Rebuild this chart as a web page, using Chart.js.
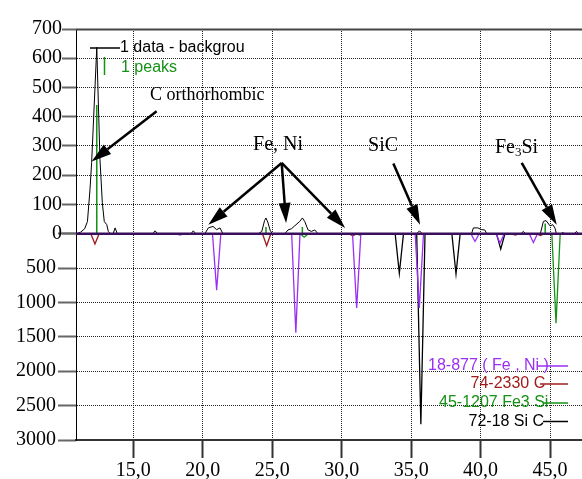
<!DOCTYPE html>
<html>
<head>
<meta charset="utf-8">
<script src="https://cdn.jsdelivr.net/npm/chart.js@4.4.1/dist/chart.umd.min.js"></script>
<style>
  html, body { margin: 0; padding: 0; background: #fff; }
  #wrap { width: 582px; height: 479px; position: relative; }
</style>
</head>
<body>
<div id="wrap"><canvas id="chart"></canvas></div>
<script>
// 2-theta range shown
const xMin = 10.875;
const xMax = 47.3;

// measured pattern "1 data - background" (upper scale, counts)
const dataX = [10.9, 11.2, 11.5, 11.7, 11.88, 12.0, 12.37, 12.6, 12.77, 12.91, 13.09, 13.2, 13.35,
  13.55, 13.69, 13.85, 16.4, 16.57, 16.75, 19.15, 19.32, 19.5,
  20.15, 20.4, 20.74, 21.0, 21.24, 21.45, 24.0, 24.25, 24.45, 24.55, 24.68, 24.85, 25.0,
  25.9, 26.14, 26.38, 26.62, 26.98, 27.17, 27.34, 27.58, 27.82, 28.06, 28.3,
  35.4, 35.6, 35.8, 39.35, 39.48, 39.8, 40.08, 40.3, 40.45, 42.9, 43.08, 43.25,
  44.3, 44.52, 44.71, 45.0, 45.2, 45.36, 45.53, 45.72, 45.9, 46.1, 46.75, 46.9, 47.05, 47.3];
const dataY = [0, 5, 17, 42, 150, 243, 637, 255, 106, 42, 31, 8, 0,
  0, 20, 0, 0, 10, 0, 0, 10, 0,
  0, 20, 25, 14, 20, 0, 0, 8, 45, 54, 40, 12, 0,
  0, 13, 17, 27, 42, 54, 42, 13, 8, 13, 0,
  0, 10, 0, 0, 20, 20, 14, 13, 0, 0, 8, 0,
  0, 42, 45, 27, 31, 19, -14, -3, 4, 0, 0, 8, 0, 0];

// "1 peaks" sticks
const peakX = [12.37, 24.55, 27.17, 44.65];
const peakY = [440, 23, 23, 35];

// reference patterns (lower scale, plotted downward)
const feNiPos = [18.36, 21.0, 26.7, 31.08, 35.59, 39.6, 41.4, 43.8];
const feNiInt = [20, 820, 1440, 1080, 1080, 112, 136, 126];
const carbonPos = [12.24, 24.6, 30.8, 42.5, 44.3];
const carbonInt = [150, 175, 30, 20, 25];
const fe3SiPos = [27.3, 31.3, 45.43];
const fe3SiInt = [50, 20, 1300];
const sicPos = [34.15, 35.7, 38.23, 41.45];
const sicInt = [575, 2770, 585, 223];

const refNames = ['18-877 ( Fe , Ni )', '74-2330 C', '45-1207 Fe3 Si', '72-18 Si C'];
const refColors = ['#9a2ff5', '#a01c1c', '#159115', '#000000'];

// annotation arrows, in data units of the upper scale
const arrowFrom = [[16.68, 419], [25.68, 242], [25.68, 242], [25.68, 242], [33.72, 240], [42.96, 242]];
const arrowTo = [[12.0, 247], [20.4, 31], [26.0, 37], [30.25, 20], [35.64, 31], [45.48, 31]];
const noteText = ['C orthorhombic', 'Fe, Ni', 'SiC', 'Fe3Si'];
const noteAt = [[16.2, 472], [23.62, 303], [31.9, 301], [41.03, 294]];

const PEAK_HALF = 0.3;
const serif = 'Liberation Serif';
const sans = 'Liberation Sans';

Chart.defaults.font.family = serif;

function sticks(pos, val) {
    const out = [];
    pos.forEach((p, i) => {
        out.push({x: p, y: 0}, {x: p, y: val[i]}, {x: p, y: null});
    });
    return out;
}

function pattern(pos, val) {
    const out = [{x: xMin, y: 0}];
    pos.forEach((p, i) => {
        out.push({x: p - PEAK_HALF, y: 0}, {x: p, y: val[i]}, {x: p + PEAK_HALF, y: 0});
    });
    out.push({x: xMax, y: 0});
    return out;
}

function drawArrow(ctx, x1, y1, x2, y2) {
    const a = Math.atan2(y2 - y1, x2 - x1);
    const head = 20, half = 6;
    const bx = x2 - head * Math.cos(a), by = y2 - head * Math.sin(a);
    ctx.beginPath();
    ctx.moveTo(x1, y1);
    ctx.lineTo(bx, by);
    ctx.stroke();
    ctx.beginPath();
    ctx.moveTo(x2, y2);
    ctx.lineTo(bx + half * Math.sin(a), by - half * Math.cos(a));
    ctx.lineTo(bx - half * Math.sin(a), by + half * Math.cos(a));
    ctx.closePath();
    ctx.fill();
}

const overlay = {
    id: 'overlay',
    afterDatasetsDraw(chart) {
        const {ctx, chartArea: area, scales: {x, y}} = chart;
        ctx.save();

        // frame top and the common zero line
        ctx.lineWidth = 2;
        ctx.strokeStyle = '#444';
        ctx.beginPath();
        ctx.moveTo(area.left, area.top + 0.5);
        ctx.lineTo(area.right, area.top + 0.5);
        ctx.stroke();
        const y0 = y.getPixelForValue(0);
        ctx.lineWidth = 2.5;
        ctx.strokeStyle = '#3a0f5c';
        ctx.beginPath();
        ctx.moveTo(area.left, y0);
        ctx.lineTo(area.right, y0);
        ctx.stroke();

        // arrows
        ctx.lineWidth = 2.5;
        ctx.strokeStyle = '#000';
        ctx.fillStyle = '#000';
        arrowFrom.forEach((f, i) => {
            const t = arrowTo[i];
            drawArrow(ctx, x.getPixelForValue(f[0]), y.getPixelForValue(f[1]),
                x.getPixelForValue(t[0]), y.getPixelForValue(t[1]));
        });

        // phase labels
        ctx.textBaseline = 'middle';
        ctx.textAlign = 'left';
        noteText.forEach((txt, i) => {
            const px = x.getPixelForValue(noteAt[i][0]);
            const py = y.getPixelForValue(noteAt[i][1]);
            if (txt === 'Fe3Si') {
                ctx.font = '20px "' + serif + '"';
                ctx.fillText('Fe', px, py);
                let w = ctx.measureText('Fe').width;
                ctx.font = '13px "' + serif + '"';
                ctx.fillText('3', px + w, py + 5);
                w += ctx.measureText('3').width;
                ctx.font = '20px "' + serif + '"';
                ctx.fillText('Si', px + w, py);
            } else {
                ctx.font = (i === 0 ? '18px "' : '20px "') + serif + '"';
                ctx.fillText(txt, px, py);
            }
        });

        // upper-left legend
        ctx.font = '16px "' + sans + '"';
        ctx.lineWidth = 1.5;
        ctx.strokeStyle = '#000';
        ctx.beginPath();
        ctx.moveTo(90, 48);
        ctx.lineTo(120, 48);
        ctx.stroke();
        ctx.fillStyle = '#000';
        ctx.fillText('1 data - backgrou', 120, 48);
        ctx.strokeStyle = '#159115';
        ctx.beginPath();
        ctx.moveTo(104.5, 57);
        ctx.lineTo(104.5, 75);
        ctx.stroke();
        ctx.fillStyle = '#159115';
        ctx.fillText('1 peaks', 121, 68);

        // lower-right legend
        const lx = [428, 470.5, 439, 468.5];
        const ly = [366, 384, 403, 421.5];
        const ls = [537, 540, 543, 543];
        refNames.forEach((n, i) => {
            ctx.fillStyle = refColors[i];
            ctx.fillText(n, lx[i], ly[i]);
            ctx.strokeStyle = refColors[i];
            ctx.beginPath();
            ctx.moveTo(ls[i], ly[i]);
            ctx.lineTo(568, ly[i]);
            ctx.stroke();
        });
        ctx.restore();
    }
};

const tickFont = {family: serif, size: 20};

new Chart(document.getElementById('chart'), {
    type: 'line',
    data: {
        datasets: [
            {data: dataX.map((v, i) => ({x: v, y: dataY[i]})), borderColor: '#000', borderWidth: 1, yAxisID: 'y'},
            {data: sticks(peakX, peakY), borderColor: '#159115', borderWidth: 1.5, yAxisID: 'y', spanGaps: false},
            {data: pattern(feNiPos, feNiInt), borderColor: refColors[0], borderWidth: 1.3, yAxisID: 'y2'},
            {data: pattern(carbonPos, carbonInt), borderColor: refColors[1], borderWidth: 1.3, yAxisID: 'y2'},
            {data: pattern(fe3SiPos, fe3SiInt), borderColor: refColors[2], borderWidth: 1.3, yAxisID: 'y2'},
            {data: pattern(sicPos, sicInt), borderColor: refColors[3], borderWidth: 1.3, yAxisID: 'y2'}
        ]
    },
    options: {
        responsive: true,
        maintainAspectRatio: false,
        animation: false,
        elements: {
            point: {radius: 0},
            line: {tension: 0, fill: false}
        },
        layout: {
            padding: {top: 29, left: 0, right: 0, bottom: 0}
        },
        plugins: {
            legend: {display: false},
            tooltip: {enabled: false}
        },
        scales: {
            x: {
                type: 'linear',
                min: xMin,
                max: xMax,
                afterFit: s => { s.height = 39; },
                ticks: {
                    stepSize: 5,
                    includeBounds: false,
                    maxRotation: 0,
                    padding: 1,
                    color: '#000',
                    font: tickFont,
                    callback: v => v.toFixed(1).replace('.', ',')
                },
                grid: {color: '#222', lineWidth: 1, tickLength: 18, tickColor: '#333', tickWidth: 2},
                border: {color: '#333', width: 2, dash: [1, 1]}
            },
            y: {
                type: 'linear',
                position: 'left',
                stack: 'xrd',
                stackWeight: 204.5,
                weight: 1,
                min: 0,
                max: 700,
                afterFit: s => { s.width = 76; },
                ticks: {stepSize: 100, autoSkip: false, padding: 0, color: '#000', font: tickFont},
                grid: {color: '#222', lineWidth: 1, tickLength: 14, tickColor: '#666', tickWidth: 2},
                border: {color: '#000', width: 1, dash: [1, 1]}
            },
            y2: {
                type: 'linear',
                position: 'left',
                stack: 'xrd',
                stackWeight: 206,
                weight: 0,
                min: 0,
                max: 3000,
                reverse: true,
                afterFit: s => { s.width = 76; },
                ticks: {
                    stepSize: 500,
                    autoSkip: false,
                    padding: 2,
                    color: '#000',
                    font: tickFont,
                    callback: v => (v === 0 ? '' : v)
                },
                grid: {color: '#222', lineWidth: 1, tickLength: 18, tickColor: '#666', tickWidth: 2},
                border: {color: '#000', width: 1, dash: [1, 1]}
            }
        }
    },
    plugins: [overlay]
});
</script>
</body>
</html>
